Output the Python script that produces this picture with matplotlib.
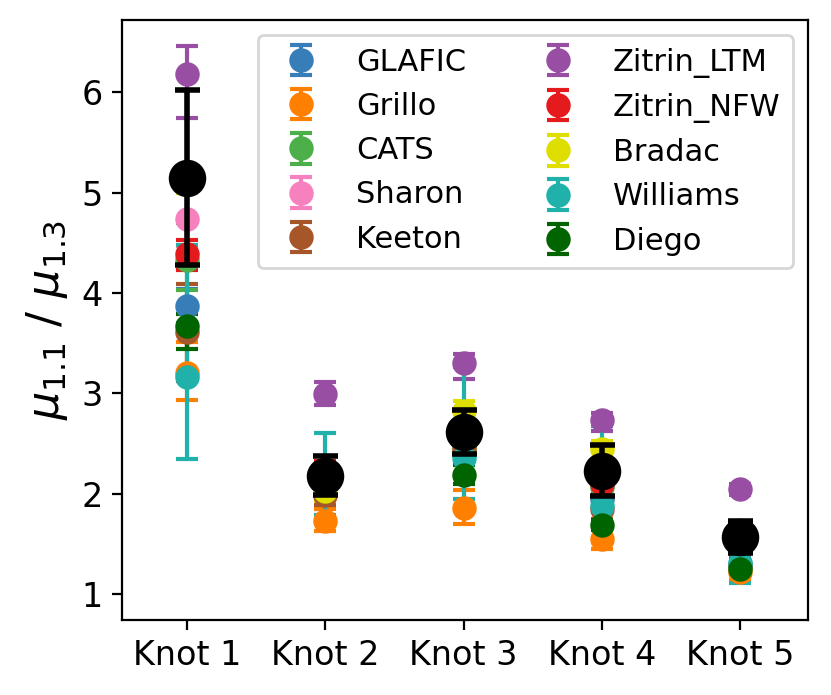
import numpy as np
import matplotlib
matplotlib.use("Agg")
from matplotlib import pyplot as plt

knots = ["Knot 1", "Knot 2", "Knot 3", "Knot 4", "Knot 5"]

models = ["GLAFIC", "Grillo", "CATS", "Sharon", "Keeton",
          "Zitrin_LTM", "Zitrin_NFW", "Bradac", "Williams", "Diego"]
colors = ["#377eb8", "#ff7f00", "#4daf4a", "#f781bf", "#a65628",
          "#984ea3", "#e41a1c", "#dede00", "#20b2aa", "#006400"]

# ratio per model, one value per knot
ratios = {
    "GLAFIC":     [3.87, 2.15, 2.50, 1.95, 1.30],
    "Grillo":     [3.20, 1.73, 1.86, 1.55, 1.22],
    "CATS":       [4.33, 2.10, 2.45, 2.07, 1.50],
    "Sharon":     [4.74, 2.20, 2.60, 2.20, 1.50],
    "Keeton":     [3.61, 1.99, 2.45, 1.85, 1.28],
    "Zitrin_LTM": [6.18, 2.99, 3.30, 2.73, 2.05],
    "Zitrin_NFW": [4.39, 2.20, 2.60, 2.10, 1.50],
    "Bradac":     [5.10, 2.03, 2.82, 2.44, 1.50],
    "Williams":   [3.16, 2.15, 2.35, 1.88, 1.31],
    "Diego":      [3.67, 2.10, 2.19, 1.69, 1.25],
}
err_lo = {
    "GLAFIC":     [0.17, 0.10, 0.10, 0.10, 0.08],
    "Grillo":     [0.27, 0.10, 0.16, 0.10, 0.08],
    "CATS":       [0.30, 0.10, 0.10, 0.10, 0.08],
    "Sharon":     [0.27, 0.10, 0.10, 0.10, 0.08],
    "Keeton":     [0.49, 0.10, 0.10, 0.10, 0.08],
    "Zitrin_LTM": [0.44, 0.11, 0.16, 0.11, 0.06],
    "Zitrin_NFW": [0.16, 0.12, 0.10, 0.10, 0.08],
    "Bradac":     [0.10, 0.10, 0.10, 0.10, 0.08],
    "Williams":   [0.82, 0.36, 0.40, 0.20, 0.20],
    "Diego":      [0.23, 0.09, 0.09, 0.05, 0.05],
}
err_hi = {
    "GLAFIC":     [0.17, 0.10, 0.10, 0.10, 0.08],
    "Grillo":     [0.31, 0.12, 0.18, 0.10, 0.08],
    "CATS":       [0.37, 0.10, 0.10, 0.10, 0.08],
    "Sharon":     [0.27, 0.10, 0.10, 0.10, 0.08],
    "Keeton":     [0.48, 0.10, 0.10, 0.10, 0.08],
    "Zitrin_LTM": [0.28, 0.12, 0.09, 0.07, 0.05],
    "Zitrin_NFW": [0.14, 0.12, 0.10, 0.10, 0.08],
    "Bradac":     [0.10, 0.10, 0.10, 0.08, 0.08],
    "Williams":   [1.32, 0.45, 0.91, 0.79, 0.10],
    "Diego":      [0.12, 0.09, 0.09, 0.05, 0.05],
}

# combined / observed values
obs = [5.15, 2.18, 2.61, 2.23, 1.57]
obs_err = [0.87, 0.19, 0.22, 0.25, 0.16]

fig = plt.figure(figsize=(8.31 / 2, 6.95 / 2), dpi=200)
ax = fig.add_axes([122 / 831, 1 - 620 / 695, 686 / 831, 600 / 695])

x = np.arange(len(knots))
for name, c in zip(models, colors):
    ax.errorbar(x, ratios[name], yerr=[err_lo[name], err_hi[name]],
                fmt="o", color=c, ms=7.8, capsize=4, elinewidth=1.5,
                capthick=1.5, label=name)

ax.errorbar(x, obs, yerr=obs_err, fmt="o", color="black", ms=12.5,
            capsize=4.5, elinewidth=2, capthick=2, zorder=5)

ax.set_xticks(x)
ax.set_xticklabels(knots, fontsize=12)
ax.tick_params(axis="y", labelsize=12)
ax.set_xlim(-0.47, 4.49)
ax.set_ylim(0.74, 6.72)
ax.set_ylabel(r"$\mu_{1.1}$ / $\mu_{1.3}$", fontsize=16)
ax.legend(ncol=2, fontsize=11, loc="upper right")

fig.savefig("out.png", dpi=200)
